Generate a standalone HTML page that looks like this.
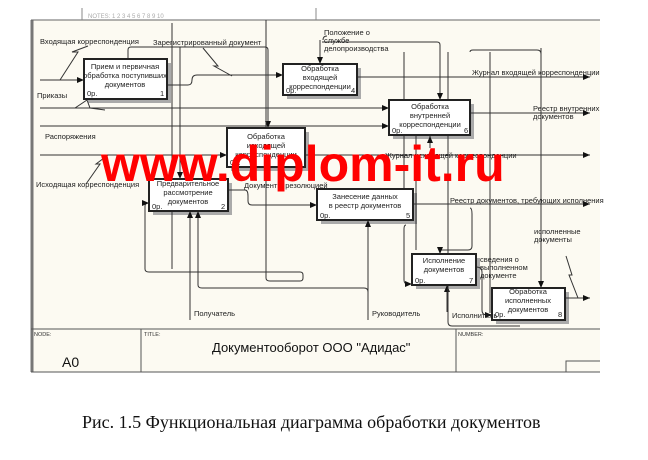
<!DOCTYPE html>
<html><head><meta charset="utf-8"><style>
html,body{margin:0;padding:0;background:#fff;}
svg{display:block;font-family:"Liberation Sans","DejaVu Sans",sans-serif;}
.b{fill:#fff;stroke:#222;stroke-width:2}
.s{fill:#aaa}
.l{fill:none;stroke:#333;stroke-width:1}
.t{font-size:7.5px;fill:#222}
.c{font-size:7.5px;fill:#222;text-anchor:middle}
</style></head><body>
<svg width="648" height="460" viewBox="0 0 648 460">
<defs><marker id="a" markerWidth="7" markerHeight="6" refX="7" refY="3" orient="auto" markerUnits="userSpaceOnUse"><path d="M0,0L7,3L0,6z" fill="#111"/></marker></defs>
<rect x="31" y="20" width="569" height="352" fill="#fcfaf2"/>
<line x1="32" y1="20" x2="32" y2="372" stroke="#777" stroke-width="3"/>
<line x1="31" y1="20" x2="600" y2="20" stroke="#666"/>
<line x1="82" y1="8" x2="82" y2="20" stroke="#888"/><line x1="316" y1="8" x2="316" y2="20" stroke="#888"/>
<text x="88" y="18" font-size="6" fill="#aaa">NOTES: 1 2 3 4 5 6 7 8 9 10</text>
<!-- title block -->
<line x1="31" y1="329" x2="600" y2="329" stroke="#555"/>
<line x1="31" y1="372" x2="600" y2="372" stroke="#555"/>
<line x1="141" y1="329" x2="141" y2="372" stroke="#555"/>
<line x1="456" y1="329" x2="456" y2="372" stroke="#555"/>
<path d="M566 372V361H600" stroke="#555" fill="none"/>
<text x="34" y="336" font-size="5.5" fill="#333">NODE:</text>
<text x="144" y="336" font-size="5.5" fill="#333">TITLE:</text>
<text x="458" y="336" font-size="5.5" fill="#333">NUMBER:</text>
<text x="62" y="367" font-size="14" fill="#111">A0</text>
<text x="212" y="352" font-size="13" fill="#111">Документооборот  ООО "Адидас"</text>
<!-- shadows -->
<rect class="s" x="88" y="63" width="83" height="40"/><rect class="s" x="287" y="68" width="74" height="31"/>
<rect class="s" x="393" y="104" width="81" height="35"/><rect class="s" x="231" y="132" width="78" height="39"/>
<rect class="s" x="153" y="183" width="79" height="32"/><rect class="s" x="321" y="193" width="96" height="31"/>
<rect class="s" x="416" y="258" width="64" height="31"/><rect class="s" x="496" y="292" width="73" height="32"/>
<!-- lines -->
<g class="l" marker-end="url(#a)">
<path d="M40 80H84"/>
<path d="M167 85H188Q192 85 192 80Q192 75 197 75H283"/>
<path d="M40 108H389"/>
<path d="M40 126H389"/>
<path d="M40 155H227"/>
<path d="M357 77H590"/><path d="M470 113H590"/><path d="M305 155H590"/>
<path d="M413 204H590"/><path d="M565 298H590"/>
<path d="M128 59V50Q128 47 131 47H265Q268 47 268 50V128"/>
<path d="M180 47V179"/>
<path d="M320 40V64"/>
<path d="M322 42H437Q440 42 440 45V100"/>
<path d="M228 190H245Q248 190 248 196V201Q248 205 252 205H317"/>
<path d="M145 269V206Q145 203 149 203"/>
<path d="M190 320V211"/>
<path d="M198 285V211"/>
<path d="M368 320V220"/>
<path d="M470 208Q472 208 472 214V246Q472 250 468 250H440V254"/>
<path d="M406 225Q404 225 404 229V280Q404 284 408 284H412" />
<path d="M447 312V285"/>
<path d="M476 267Q482 267 482 272V310Q482 315 487 315H492"/>
<path d="M541 48V288"/>
<path d="M430 148V136"/>
</g>
<g class="l">
<path d="M145 269Q145 272 149 272H300Q303 272 303 275V278Q303 281 300 281H270Q266 281 266 278V20"/>
<path d="M198 285Q198 288 202 288H364Q368 288 368 292"/>
<path d="M172 23V269"/>
<path d="M470 52Q470 50 473 50H537Q541 50 541 54"/>
<path d="M404 52V208"/>
<path d="M448 52V322Q448 326 452 326H520"/>
<path d="M416 120V250"/>
<path d="M490 313V52"/>
<path d="M60 80L78 52L72 52L88 46" />
<path d="M75 108L87 100L90 108L105 110"/>
<path d="M86 184L100 164L96 164L108 155"/>
<path d="M203 48L218 66L214 66L232 76"/>
<path d="M566 256L572 275L569 275L578 298"/>
<path d="M327 36Q323 36 323 40"/>
</g>
<!-- boxes -->
<rect class="b" x="84" y="59" width="83" height="40"/>
<text class="c" x="125" y="69">Прием и первичная</text><text class="c" x="125" y="78">обработка поступивших</text><text class="c" x="125" y="87">документов</text>
<text class="t" x="87" y="96">0р.</text><text class="t" x="160" y="96">1</text>
<rect class="b" x="283" y="64" width="74" height="31"/>
<text class="c" x="320" y="71">Обработка</text><text class="c" x="320" y="80">входящей</text><text class="c" x="320" y="89">корреспонденции</text>
<text class="t" x="286" y="93">0р.</text><text class="t" x="351" y="93">4</text>
<rect class="b" x="389" y="100" width="81" height="35"/>
<text class="c" x="430" y="109">Обработка</text><text class="c" x="430" y="118">внутренней</text><text class="c" x="430" y="127">корреспонденции</text>
<text class="t" x="392" y="133">0р.</text><text class="t" x="464" y="133">6</text>
<rect class="b" x="227" y="128" width="78" height="39"/>
<text class="c" x="266" y="139">Обработка</text><text class="c" x="266" y="148">исходящей</text><text class="c" x="266" y="157">корреспонденции</text>
<text class="t" x="230" y="165">0р.</text><text class="t" x="298" y="165">3</text>
<rect class="b" x="149" y="179" width="79" height="32"/>
<text class="c" x="188" y="186">Предварительное</text><text class="c" x="188" y="195">рассмотрение</text><text class="c" x="188" y="204">документов</text>
<text class="t" x="152" y="209">0р.</text><text class="t" x="221" y="209">2</text>
<rect class="b" x="317" y="189" width="96" height="31"/>
<text class="c" x="365" y="199">Занесение данных</text><text class="c" x="365" y="208">в реестр документов</text>
<text class="t" x="320" y="218">0р.</text><text class="t" x="406" y="218">5</text>
<rect class="b" x="412" y="254" width="64" height="31"/>
<text class="c" x="444" y="263">Исполнение</text><text class="c" x="444" y="272">документов</text>
<text class="t" x="415" y="283">0р.</text><text class="t" x="469" y="283">7</text>
<rect class="b" x="492" y="288" width="73" height="32"/>
<text class="c" x="528" y="294">Обработка</text><text class="c" x="528" y="303">исполненных</text><text class="c" x="528" y="312">документов</text>
<text class="t" x="495" y="317">0р.</text><text class="t" x="558" y="317">8</text>
<!-- labels -->
<g class="t">
<text x="40" y="44">Входящая корреспонденция</text>
<text x="153" y="45">Зарегистрированный документ</text>
<text x="324" y="35">Положение о</text><text x="324" y="43">службе</text><text x="324" y="51">делопроизводства</text>
<text x="37" y="98">Приказы</text>
<text x="45" y="139">Распоряжения</text>
<text x="36" y="187">Исходящая корреспонденция</text>
<text x="472" y="75">Журнал входящей корреспонденции</text>
<text x="533" y="111">Реестр внутренних</text><text x="533" y="119">документов</text>
<text x="385" y="158">Журнал исходящей корреспонденции</text>
<text x="244" y="188">Документ с резолюцией</text>
<text x="450" y="203">Реестр документов, требующих исполнения</text>
<text x="534" y="234">исполненные</text><text x="534" y="242">документы</text>
<text x="480" y="262">сведения о</text><text x="480" y="270">выполненном</text><text x="480" y="278">документе</text>
<text x="194" y="316">Получатель</text>
<text x="372" y="316">Руководитель</text>
<text x="452" y="318">Исполнитель</text>
</g>
<text x="101" y="181" font-size="50" font-weight="bold" fill="#ff0000">www.diplom-it.ru</text>
<text x="82" y="428" font-family="Liberation Serif,serif" font-size="18" fill="#111">Рис. 1.5 Функциональная диаграмма обработки  документов</text>
</svg>
</body></html>
